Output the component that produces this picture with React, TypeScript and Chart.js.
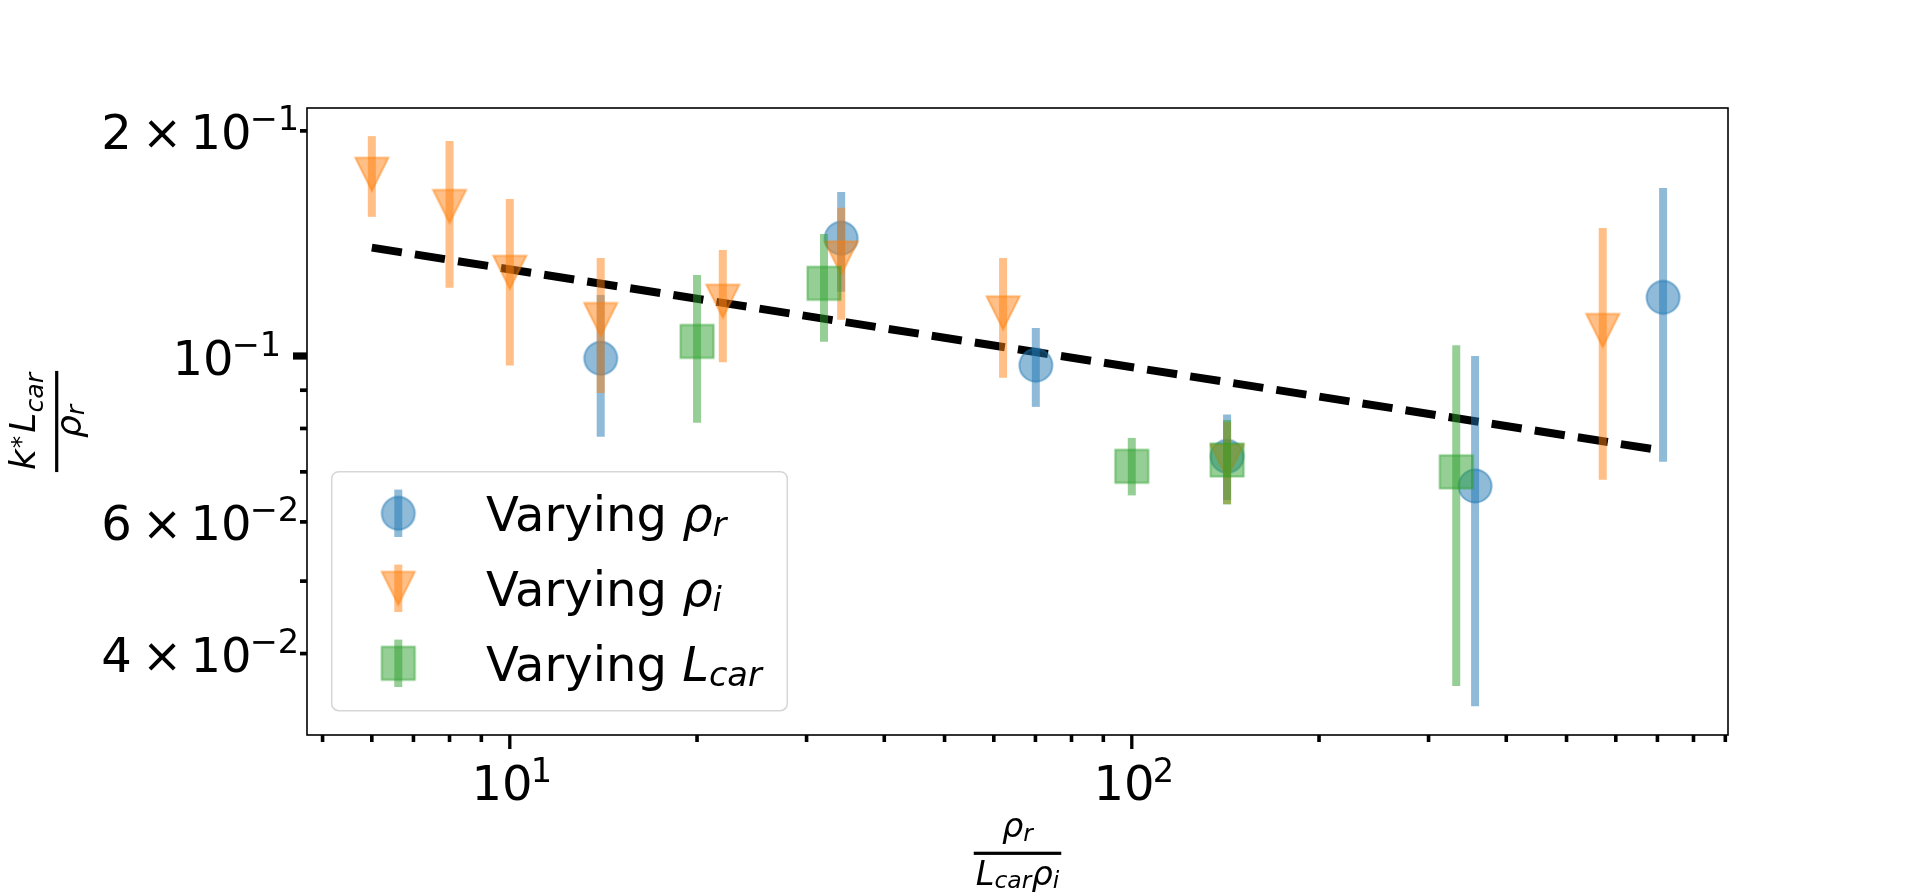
import React, { useEffect, useRef } from "react";
import { Chart, registerables } from "chart.js";

Chart.register(...registerables);

// ---------------- data ----------------
const blueX = [14.0, 34.1, 70.1, 142.3, 356.4, 714.8];
const blueY = [0.0993, 0.1437, 0.0972, 0.0734, 0.067, 0.1198];
const blueLo = [0.078, 0.1219, 0.0855, 0.0642, 0.034, 0.0722];
const blueHi = [0.1207, 0.1657, 0.109, 0.0835, 0.1, 0.1677];

const orangeX = [6.0, 8.0, 10.0, 14.0, 22.0, 34.1, 62.1, 142.3, 571.7];
const orangeY = [0.175, 0.1585, 0.1294, 0.1119, 0.1184, 0.1352, 0.1142, 0.0723, 0.1082];
const orangeLo = [0.1535, 0.1234, 0.0971, 0.0892, 0.0981, 0.1118, 0.0935, 0.0634, 0.0683];
const orangeHi = [0.1968, 0.1938, 0.1622, 0.1352, 0.1386, 0.1579, 0.1352, 0.0816, 0.1483];

const greenX = [20.0, 32.0, 100.0, 142.3, 332.4];
const greenY = [0.1046, 0.1251, 0.0712, 0.0726, 0.07];
const greenLo = [0.0814, 0.1045, 0.0651, 0.0633, 0.0362];
const greenHi = [0.1283, 0.1456, 0.0777, 0.0821, 0.1034];

const fitX = [6.0, 714.8];
const fitY = [0.1396, 0.0747];

const xRange = [4.72, 909];
const yRange = [0.03113, 0.2146];

const xMajorTicks = [10, 100];
const xMinorTicks = [5, 6, 7, 8, 9, 20, 30, 40, 50, 60, 70, 80, 90, 200, 300, 400, 500, 600, 700, 800, 900];
const yMajorTicks = [0.1];
const yMinorTicks = [0.04, 0.05, 0.06, 0.07, 0.08, 0.09, 0.2];

const xLabelValues = [10, 100];
const xLabelExponents = ["1", "2"];
const yLabelValues = [0.2, 0.1, 0.06, 0.04];
const yLabelMantissas = ["2", "", "6", "4"];
const yLabelExponents = ["\u22121", "\u22121", "\u22122", "\u22122"];

const seriesNames = ["Varying ", "Varying ", "Varying "];
const seriesSymbols = ["\u03c1", "\u03c1", "L"];
const seriesSubscripts = ["r", "i", "car"];

// ---------------- styling ----------------
const BLUE = [31, 119, 180];
const ORANGE = [255, 127, 14];
const GREEN = [44, 160, 44];
const FONT = '"DejaVu Sans", "Liberation Sans", sans-serif';
const rgba = (c: number[], a: number) => `rgba(${c[0]},${c[1]},${c[2]},${a})`;

type Part = { t: string; size: number; italic?: boolean; dx?: number; dy?: number };

function setFont(ctx: CanvasRenderingContext2D, p: Part) {
  ctx.font = `${p.italic ? "italic " : ""}${p.size}px ${FONT}`;
}
function partsWidth(ctx: CanvasRenderingContext2D, parts: Part[]) {
  let w = 0;
  for (const p of parts) {
    setFont(ctx, p);
    w += (p.dx || 0) + ctx.measureText(p.t).width;
  }
  return w;
}
function drawParts(ctx: CanvasRenderingContext2D, parts: Part[], x: number, y: number) {
  let cx = x;
  for (const p of parts) {
    setFont(ctx, p);
    cx += p.dx || 0;
    ctx.fillText(p.t, cx, y + (p.dy || 0));
    cx += ctx.measureText(p.t).width;
  }
}

function makeMarker(shape: string, c: number[]) {
  const cv = document.createElement("canvas");
  cv.width = 40;
  cv.height = 40;
  const g = cv.getContext("2d")!;
  const r = 16.5;
  g.beginPath();
  if (shape === "circle") {
    g.arc(20, 20, r, 0, Math.PI * 2);
  } else if (shape === "tri") {
    g.moveTo(20 - r, 20 - r);
    g.lineTo(20 + r, 20 - r);
    g.lineTo(20, 20 + r);
    g.closePath();
  } else {
    g.rect(20 - r, 20 - r, 2 * r, 2 * r);
  }
  g.fillStyle = rgba(c, 0.5);
  g.fill();
  g.lineWidth = 2;
  g.strokeStyle = rgba(c, 0.5);
  g.stroke();
  return cv;
}

export default function App() {
  const ref = useRef<HTMLCanvasElement | null>(null);

  useEffect(() => {
    document.body.style.margin = "0";
    const canvas = ref.current;
    if (!canvas) return;

    const markers = [makeMarker("circle", BLUE), makeMarker("tri", ORANGE), makeMarker("square", GREEN)];
    const errorSets: any[] = [
      { x: blueX, lo: blueLo, hi: blueHi, c: BLUE },
      { x: orangeX, lo: orangeLo, hi: orangeHi, c: ORANGE },
      { x: greenX, lo: greenLo, hi: greenHi, c: GREEN },
    ];
    const colors = [BLUE, ORANGE, GREEN];

    const errorBarPlugin = {
      id: "errorBars",
      beforeDatasetDraw(chart: any, args: any) {
        const e = errorSets[args.index];
        if (!e) return;
        const { ctx, chartArea: a } = chart;
        const xs = chart.scales.x;
        const ys = chart.scales.y;
        ctx.save();
        ctx.beginPath();
        ctx.rect(a.left, a.top, a.right - a.left, a.bottom - a.top);
        ctx.clip();
        ctx.strokeStyle = rgba(e.c, 0.5);
        ctx.lineWidth = 8;
        ctx.lineCap = "butt";
        for (let i = 0; i < e.x.length; i++) {
          const px = xs.getPixelForValue(e.x[i]);
          ctx.beginPath();
          ctx.moveTo(px, ys.getPixelForValue(e.lo[i]));
          ctx.lineTo(px, ys.getPixelForValue(e.hi[i]));
          ctx.stroke();
        }
        ctx.restore();
      },
    };

    const decorPlugin = {
      id: "decor",
      afterDatasetsDraw(chart: any) {
        const { ctx, chartArea: a } = chart;
        const xs = chart.scales.x;
        const ys = chart.scales.y;
        ctx.save();
        // frame
        ctx.strokeStyle = "#000";
        ctx.lineWidth = 1.6;
        ctx.strokeRect(a.left, a.top, a.right - a.left, a.bottom - a.top);
        ctx.fillStyle = "#000";
        // x ticks
        for (const t of xs.ticks) {
          const px = xs.getPixelForValue(t.value);
          if (t.major) ctx.fillRect(px - 1.65, a.bottom, 3.3, 14);
          else ctx.fillRect(px - 1.8, a.bottom, 3.6, 7);
        }
        // y ticks
        for (const t of ys.ticks) {
          const py = ys.getPixelForValue(t.value);
          if (t.major) ctx.fillRect(a.left - 14, py - 3.6, 14, 7.2);
          else ctx.fillRect(a.left - 7, py - 1.85, 7, 3.7);
        }
        ctx.textBaseline = "alphabetic";
        ctx.textAlign = "left";
        // x tick labels
        xLabelValues.forEach((v, i) => {
          const px = xs.getPixelForValue(v);
          const parts: Part[] = [
            { t: "10", size: 48 },
            { t: xLabelExponents[i], size: 33.6, dx: -2, dy: -18.3 },
          ];
          const w = partsWidth(ctx, parts);
          drawParts(ctx, parts, px + 2 - w / 2, a.bottom + 65);
        });
        // y tick labels
        yLabelValues.forEach((v, i) => {
          const py = ys.getPixelForValue(v);
          const m = yLabelMantissas[i];
          const parts: Part[] = m
            ? [
                { t: m, size: 48 },
                { t: "\u00d7", size: 48, dx: 10 },
                { t: "10", size: 48, dx: 8.3 },
                { t: yLabelExponents[i], size: 33.6, dx: -2, dy: -19 },
              ]
            : [
                { t: "10", size: 48 },
                { t: yLabelExponents[i], size: 33.6, dx: -2, dy: -19 },
              ];
          const w = partsWidth(ctx, parts);
          const right = m ? a.left - 8 : a.left - 26;
          drawParts(ctx, parts, right - w, py + 18.6);
        });

        // x axis title (fraction)
        const f = 33.6;
        const s = 23.5;
        {
          const cx = (a.left + a.right) / 2;
          const barY = a.bottom + 118.3;
          const num: Part[] = [
            { t: "\u03c1", size: f, italic: true },
            { t: "r", size: s, italic: true, dy: 4.5 },
          ];
          const den: Part[] = [
            { t: "L", size: f, italic: true },
            { t: "car", size: s, italic: true, dy: 3 },
            { t: "\u03c1", size: f, italic: true },
            { t: "i", size: s, italic: true, dy: 3 },
          ];
          const nw = partsWidth(ctx, num);
          const dw = partsWidth(ctx, den);
          const bw = Math.max(nw, dw) + 4;
          ctx.fillRect(cx - bw / 2, barY - 1.6, bw, 3.2);
          drawParts(ctx, num, cx - nw / 2, barY - 16.8);
          drawParts(ctx, den, cx - dw / 2, barY + 31.7);
        }
        // y axis title (fraction, rotated)
        {
          const fy = 36;
          const sy = 25.2;
          const cy = (a.top + a.bottom) / 2;
          ctx.save();
          ctx.translate(56.7, cy);
          ctx.rotate(-Math.PI / 2);
          const num: Part[] = [
            { t: "k", size: fy, italic: true },
            { t: "*", size: sy, dx: 1, dy: -6 },
            { t: "L", size: fy, italic: true, dx: 3 },
            { t: "car", size: sy, italic: true, dy: 8 },
          ];
          const den: Part[] = [
            { t: "\u03c1", size: fy, italic: true },
            { t: "r", size: sy, italic: true, dy: 3 },
          ];
          const nw = partsWidth(ctx, num);
          const dw = partsWidth(ctx, den);
          const bw = Math.max(nw, dw) + 4;
          ctx.fillRect(-bw / 2, -1.6, bw, 3.2);
          drawParts(ctx, num, -nw / 2, -21.7);
          drawParts(ctx, den, -dw / 2, 24.5);
          ctx.restore();
        }

        // legend
        {
          const lx = 331.7;
          const ly = 471.7;
          const lw = 455.6;
          const lh = 239;
          const rr = 7;
          ctx.beginPath();
          ctx.moveTo(lx + rr, ly);
          ctx.lineTo(lx + lw - rr, ly);
          ctx.arcTo(lx + lw, ly, lx + lw, ly + rr, rr);
          ctx.lineTo(lx + lw, ly + lh - rr);
          ctx.arcTo(lx + lw, ly + lh, lx + lw - rr, ly + lh, rr);
          ctx.lineTo(lx + rr, ly + lh);
          ctx.arcTo(lx, ly + lh, lx, ly + lh - rr, rr);
          ctx.lineTo(lx, ly + rr);
          ctx.arcTo(lx, ly, lx + rr, ly, rr);
          ctx.closePath();
          ctx.fillStyle = "rgba(255,255,255,0.8)";
          ctx.fill();
          ctx.strokeStyle = "rgba(204,204,204,0.8)";
          ctx.lineWidth = 1.5;
          ctx.stroke();
          for (let i = 0; i < 3; i++) {
            const my = 513.3 + 75 * i;
            const mx = 398.3;
            ctx.strokeStyle = rgba(colors[i], 0.5);
            ctx.lineWidth = 8;
            ctx.lineCap = "butt";
            ctx.beginPath();
            ctx.moveTo(mx, my - 23.7);
            ctx.lineTo(mx, my + 23.7);
            ctx.stroke();
            ctx.drawImage(markers[i], mx - 20, my - 20);
            ctx.fillStyle = "#000";
            drawParts(
              ctx,
              [
                { t: seriesNames[i], size: 48 },
                { t: seriesSymbols[i], size: 48, italic: true },
                { t: seriesSubscripts[i], size: 33.6, italic: true, dy: 5 },
              ],
              486,
              530.7 + 75 * i
            );
          }
        }
        ctx.restore();
      },
    };

    const toPts = (xs: number[], ys: number[]) => xs.map((x, i) => ({ x, y: ys[i] }));

    const chart = new Chart(canvas, {
      type: "scatter",
      data: {
        datasets: [
          {
            label: "Varying \u03c1r",
            data: toPts(blueX, blueY),
            pointStyle: markers[0] as any,
            pointRadius: 17,
            order: 2,
          },
          {
            label: "Varying \u03c1i",
            data: toPts(orangeX, orangeY),
            pointStyle: markers[1] as any,
            pointRadius: 17,
            order: 1,
          },
          {
            label: "Varying Lcar",
            data: toPts(greenX, greenY),
            pointStyle: markers[2] as any,
            pointRadius: 17,
            order: 0,
          },
          {
            type: "line",
            label: "fit",
            data: toPts(fitX, fitY),
            borderColor: "#000",
            borderWidth: 8,
            borderDash: [30.4, 13.2],
            borderCapStyle: "butt",
            pointRadius: 0,
            showLine: true,
            fill: false,
            order: 3,
          } as any,
        ],
      },
      options: {
        responsive: false,
        animation: false,
        devicePixelRatio: 1,
        events: [],
        layout: { padding: { left: 0, top: 108, right: 192, bottom: 0 } },
        plugins: { legend: { display: false }, tooltip: { enabled: false } },
        scales: {
          x: {
            type: "logarithmic",
            min: xRange[0],
            max: xRange[1],
            grid: { display: false },
            border: { display: false },
            ticks: { display: false },
            afterBuildTicks: (sc: any) => {
              sc.ticks = [...xMajorTicks, ...xMinorTicks]
                .sort((p, q) => p - q)
                .map((v) => ({ value: v, major: xMajorTicks.includes(v) }));
            },
            afterFit: (sc: any) => {
              sc.height = 161;
            },
          },
          y: {
            type: "logarithmic",
            min: yRange[0],
            max: yRange[1],
            grid: { display: false },
            border: { display: false },
            ticks: { display: false },
            afterBuildTicks: (sc: any) => {
              sc.ticks = [...yMajorTicks, ...yMinorTicks]
                .sort((p, q) => p - q)
                .map((v) => ({ value: v, major: yMajorTicks.includes(v) }));
            },
            afterFit: (sc: any) => {
              sc.width = 307;
            },
          },
        },
      } as any,
      plugins: [errorBarPlugin, decorPlugin],
    });

    return () => {
      chart.destroy();
    };
  }, []);

  return (
    <div style={{ position: "fixed", left: 0, top: 0, width: 1920, height: 896, background: "#fff" }}>
      <canvas ref={ref} width={1920} height={896} style={{ display: "block", width: 1920, height: 896 }} />
    </div>
  );
}
